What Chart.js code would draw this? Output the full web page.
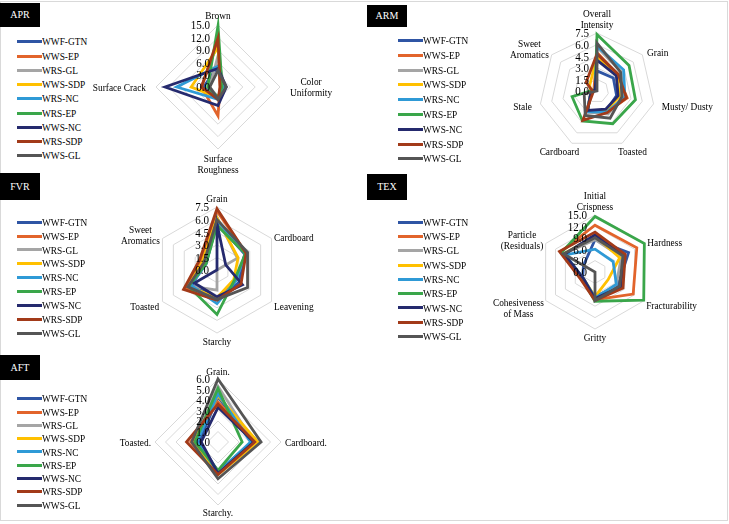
<!DOCTYPE html>
<html>
<head>
<meta charset="utf-8">
<script src="https://cdn.jsdelivr.net/npm/chart.js@4/dist/chart.umd.min.js"></script>
<style>
body { margin: 0; background: #fff; }
#page { position: relative; width: 729px; height: 524px; overflow: hidden; font-family: "Liberation Serif", "Times New Roman", serif; }
.frame { position: absolute; left: 0; top: 1px; width: 726px; height: 518px; border: 1px solid #d9d9d9; }
#page canvas { position: absolute; left: 0; top: 0; }
.tag { position: absolute; background: #000; color: #fff; font-size: 10px; text-align: center; }
.legend-row { position: absolute; white-space: nowrap; font-size: 11px; line-height: 12px; height: 12px; }
.legend-row i { display: inline-block; width: 25px; height: 3px; vertical-align: middle; margin-top: -2px; }
.legend-row b { display: inline-block; font-weight: normal; transform: scaleX(0.85); transform-origin: left center; }
</style>
</head>
<body>
<div id="page"><div class="frame"></div></div>
<script>
// series (same order in every panel)
const seriesNames = ['WWF-GTN', 'WWS-EP', 'WRS-GL', 'WWS-SDP', 'WRS-NC', 'WRS-EP', 'WWS-NC', 'WRS-SDP', 'WWS-GL'];
const seriesColors = ['#2f55a4', '#e2642b', '#a5a5a5', '#ffc000', '#2f9ad6', '#3aa64a', '#252a6e', '#a23a19', '#555555'];

// APR - appearance
const aprAxes = ['Brown', ['Color', 'Uniformity'], ['Surface', 'Roughness'], 'Surface Crack'];
const aprValues = [
    [5.0, 1.5, 3.0, 3.5],
    [11.0, 0.5, 7.0, 4.0],
    [7.5, 1.5, 2.5, 2.0],
    [9.5, 1.0, 2.5, 6.5],
    [5.0, 1.5, 3.0, 10.0],
    [14.8, 1.0, 2.5, 2.5],
    [4.5, 2.0, 4.5, 12.8],
    [11.8, 0.5, 3.0, 4.0],
    [4.0, 2.0, 3.0, 2.0]
];

// ARM - aroma
const armAxes = [['Overall', 'Intensity'], 'Grain', 'Musty/ Dusty', 'Toasted', 'Cardboard', 'Stale', ['Sweet', 'Aromatics']];
const armValues = [
    [2.6, 2.7, 2.6, 2.8, 2.8, 0.8, 0.3],
    [5.0, 3.4, 4.0, 3.0, 3.0, 0.8, 0.5],
    [5.7, 4.0, 3.4, 3.3, 3.0, 0.8, 0.3],
    [4.5, 3.3, 3.0, 2.8, 2.8, 0.8, 1.2],
    [5.8, 4.4, 3.7, 3.0, 3.0, 0.8, 0.3],
    [7.3, 5.3, 5.1, 4.7, 4.3, 3.3, 0.3],
    [4.0, 3.2, 2.8, 2.6, 2.8, 0.8, 0.3],
    [4.8, 3.5, 3.9, 3.1, 4.2, 0.5, 1.8],
    [6.2, 3.9, 3.3, 3.9, 3.5, 1.7, 0.0]
];

// FVR - flavour
const fvrAxes = ['Grain', 'Cardboard', 'Leavening', 'Starchy', 'Toasted', ['Sweet', 'Aromatics']];
const fvrValues = [
    [5.6, 3.8, 3.0, 3.4, 3.5, 1.5],
    [7.0, 4.0, 2.5, 3.4, 4.3, 2.2],
    [6.3, 2.8, 0.0, 2.4, 3.8, 1.6],
    [6.2, 2.9, 2.3, 3.3, 3.9, 2.0],
    [5.9, 3.9, 2.6, 4.0, 3.6, 1.5],
    [5.3, 3.9, 2.4, 5.3, 3.9, 1.5],
    [5.5, 1.2, 3.5, 3.2, 3.1, 0.0],
    [7.3, 4.0, 3.3, 3.6, 4.6, 2.4],
    [6.0, 4.2, 4.2, 3.5, 4.0, 1.8]
];

// TEX - texture
const texAxes = [['Initial', 'Crispness'], 'Hardness', 'Fracturability', 'Gritty', ['Cohesiveness', 'of Mass'], ['Particle', '(Residuals)']];
const texValues = [
    [8.5, 10.2, 7.0, 6.5, 3.8, 3.5],
    [12.3, 12.7, 11.6, 7.3, 4.0, 10.5],
    [8.5, 8.0, 6.5, 7.0, 3.5, 9.5],
    [9.5, 7.5, 4.0, 6.5, 3.5, 9.5],
    [6.0, 5.5, 6.5, 6.8, 3.5, 9.0],
    [14.6, 15.0, 14.8, 7.7, 3.8, 10.2],
    [9.8, 8.8, 7.8, 7.0, 3.5, 9.3],
    [10.5, 9.2, 8.5, 7.5, 4.2, 10.8],
    [9.0, 8.5, 7.5, 7.5, 0.0, 9.6]
];

// AFT - aftertaste
const aftAxes = ['Grain.', 'Cardboard.', 'Starchy.', 'Toasted.'];
const aftValues = [
    [4.3, 3.3, 2.8, 1.8],
    [3.8, 3.6, 3.0, 2.6],
    [5.3, 3.4, 2.9, 2.2],
    [4.4, 3.8, 3.1, 2.4],
    [4.6, 3.1, 2.9, 2.0],
    [5.1, 2.3, 2.7, 2.2],
    [3.3, 3.4, 3.0, 1.6],
    [3.6, 3.5, 3.1, 3.0],
    [6.0, 4.1, 3.5, 2.5]
];

const W = 729, H = 524;
const SQ = 0.85; // the text in the picture is narrow
const page = document.getElementById('page');

function narrowText(ctx, txt, x, y) {
    ctx.save();
    ctx.translate(x, y);
    ctx.scale(SQ, 1);
    ctx.fillText(txt, 0, 0);
    ctx.restore();
}

// tick labels and axis names drawn next to the scale
const radarText = {
    id: 'radarText',
    afterDatasetsDraw(chart, args, opts) {
        const s = chart.scales.r;
        const ctx = chart.ctx;
        ctx.save();
        ctx.fillStyle = '#000';
        ctx.font = '13px "Liberation Serif"';
        ctx.textAlign = 'right';
        ctx.textBaseline = 'middle';
        s.ticks.forEach(t => {
            const y = s.yCenter - s.getDistanceFromCenterForValue(t.value);
            narrowText(ctx, t.value.toFixed(1), s.xCenter - 8, y + 1);
        });
        ctx.font = '11px "Liberation Serif"';
        ctx.textAlign = 'center';
        chart.data.labels.forEach((lab, i) => {
            const lines = Array.isArray(lab) ? lab : [lab];
            const p = s.getPointPosition(i, s.drawingArea + opts.pad);
            const a = s.getIndexAngle(i) - Math.PI / 2;
            const c = Math.cos(a), sn = Math.sin(a);
            const bw = Math.max(...lines.map(l => ctx.measureText(l).width)) * SQ;
            const lh = 11, bh = lines.length * lh;
            const mx = p.x + c * (bw / 2 + opts.padX);
            // labels above the centre sit a little lower in the picture
            const my = p.y + sn * bh / 2 + (sn < -0.3 && sn > -0.95 ? 3 : 0);
            lines.forEach((l, k) => narrowText(ctx, l, mx, my - bh / 2 + lh * k + lh / 2 + 1));
        });
        ctx.restore();
    }
};

function makePanel(p) {
    const tag = document.createElement('div');
    tag.className = 'tag';
    tag.style.cssText = `left:${p.tag[0]}px;top:${p.tag[1]}px;width:${p.tag[2]}px;height:${p.tag[3]}px;line-height:${p.tag[3]}px;`;
    tag.textContent = p.name;
    page.appendChild(tag);

    seriesNames.forEach((s, i) => {
        const row = document.createElement('div');
        row.className = 'legend-row';
        row.style.left = p.legend[0] + 'px';
        row.style.top = (p.legend[1] + i * p.legend[2] - 6) + 'px';
        row.innerHTML = `<i style="background:${seriesColors[i]}"></i><b>${s}</b>`;
        page.appendChild(row);
    });

    const cv = document.createElement('canvas');
    cv.width = W; cv.height = H;
    page.appendChild(cv);
    new Chart(cv, {
        type: 'radar',
        data: {
            labels: p.axes,
            datasets: seriesNames.map((s, i) => ({
                label: s,
                data: p.values[i],
                borderColor: seriesColors[i],
                backgroundColor: 'transparent',
                borderWidth: 2.8,
                borderJoinStyle: 'miter',
                pointRadius: 0,
                fill: false,
                order: seriesNames.length - i
            }))
        },
        options: {
            responsive: false,
            animation: false,
            events: [],
            layout: { padding: { left: p.cx - p.r, top: p.cy - p.r, right: W - p.cx - p.r, bottom: H - p.cy - p.r } },
            plugins: { legend: { display: false }, tooltip: { enabled: false }, radarText: { pad: p.pad, padX: p.padX } },
            scales: {
                r: {
                    min: 0, max: p.max,
                    ticks: { display: false, stepSize: p.step },
                    pointLabels: { display: false },
                    angleLines: { display: false },
                    grid: { color: '#d9d9d9', lineWidth: 1 }
                }
            }
        },
        plugins: [radarText]
    });
}

makePanel({ name: 'APR', axes: aprAxes, values: aprValues, max: 15, step: 3, cx: 218, cy: 87, r: 62, pad: 4, padX: 6, tag: [0, 3, 40, 24], legend: [17, 41.3, 14.25] });
makePanel({ name: 'ARM', axes: armAxes, values: armValues, max: 7.5, step: 1.5, cx: 597, cy: 91, r: 58, pad: 3, padX: 6, tag: [367, 5, 40, 22], legend: [398, 40, 14.8] });
makePanel({ name: 'FVR', axes: fvrAxes, values: fvrValues, max: 7.5, step: 1.5, cx: 217, cy: 270, r: 63, pad: 3, padX: 3, tag: [0, 173, 40, 27], legend: [17, 221.7, 13.9] });
makePanel({ name: 'TEX', axes: texAxes, values: texValues, max: 15, step: 3, cx: 595, cy: 272, r: 57, pad: 3, padX: 3, tag: [367, 174, 40, 26], legend: [398, 221.7, 14.3] });
makePanel({ name: 'AFT', axes: aftAxes, values: aftValues, max: 6, step: 1, cx: 218, cy: 442, r: 63, pad: 2, padX: 2, tag: [0, 355, 40, 25], legend: [17, 398.3, 13.3] });
</script>
</body>
</html>
